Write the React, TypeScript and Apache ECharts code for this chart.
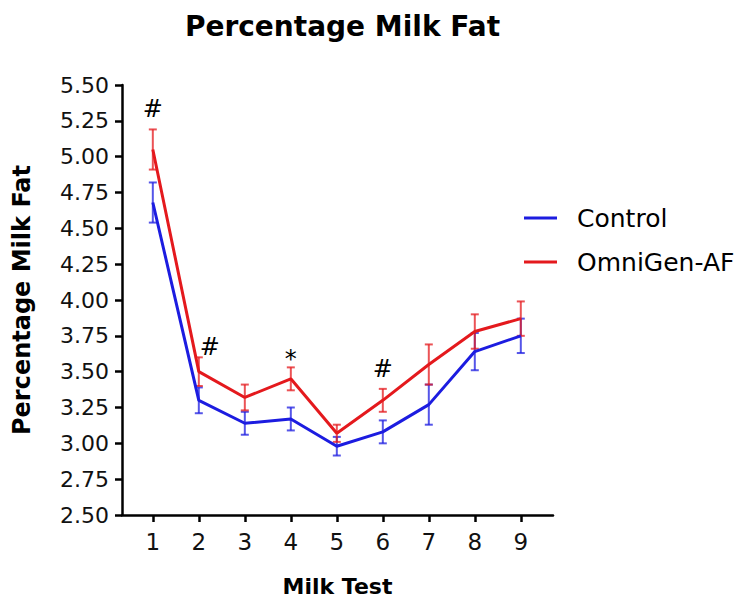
import React, { useEffect, useRef } from "react";
import * as echarts from "echarts";

const milkTests = [1, 2, 3, 4, 5, 6, 7, 8, 9];
const controlMean = [4.68, 3.30, 3.14, 3.17, 2.98, 3.08, 3.27, 3.64, 3.75];
const controlSE = [0.14, 0.09, 0.08, 0.08, 0.065, 0.08, 0.14, 0.13, 0.12];
const omniMean = [5.05, 3.50, 3.32, 3.45, 3.07, 3.30, 3.55, 3.78, 3.87];
const omniSE = [0.14, 0.10, 0.09, 0.08, 0.06, 0.08, 0.14, 0.12, 0.12];
const yTicks = [2.5, 2.75, 3.0, 3.25, 3.5, 3.75, 4.0, 4.25, 4.5, 4.75, 5.0, 5.25, 5.5];
const annotX = [1.0, 2.24, 4.0, 6.0];
const annotY = [5.33, 3.67, 3.59, 3.52];
const annotText = ["#", "#", "*", "#"];

const BLUE = "#1c1ce0";
const RED = "#e4191d";
const FONT = "DejaVu Sans";

export default function App() {
  const ref = useRef<HTMLDivElement>(null);
  useEffect(() => {
    document.body.style.margin = "0";
    if (!ref.current) return;
    const chart = echarts.init(ref.current, null, { renderer: "svg" });

    const errRender = (color: string) => (params: any, api: any) => {
      const x = api.value(0);
      const m = api.value(1);
      const e = api.value(2);
      const top = api.coord([x, m + e]);
      const bot = api.coord([x, m - e]);
      const hw = 4;
      const style = { stroke: color, lineWidth: 2, opacity: 0.75 };
      return {
        type: "group",
        children: [
          { type: "line", shape: { x1: top[0], y1: top[1], x2: bot[0], y2: bot[1] }, style },
          { type: "line", shape: { x1: top[0] - hw, y1: top[1], x2: top[0] + hw, y2: top[1] }, style },
          { type: "line", shape: { x1: bot[0] - hw, y1: bot[1], x2: bot[0] + hw, y2: bot[1] }, style },
        ],
      };
    };

    const option: any = {
      animation: false,
      backgroundColor: "#ffffff",
      title: {
        text: "Percentage Milk Fat",
        left: 337.5,
        top: 7,
        textAlign: "center",
        textStyle: { fontFamily: FONT, fontWeight: "bold", fontSize: 28, color: "#000" },
      },
      legend: {
        data: ["Control", "OmniGen-AF"],
        orient: "vertical",
        left: 519,
        top: 198,
        icon: "rect",
        itemWidth: 33,
        itemHeight: 3,
        itemGap: 14,
        textStyle: {
          fontFamily: FONT,
          fontSize: 25,
          color: "#000",
          lineHeight: 30,
          padding: [0, 0, 0, 15],
        },
      },
      grid: { left: 122, right: 181, top: 85, bottom: 88, containLabel: false },
      xAxis: {
        type: "value",
        min: 0.33,
        max: 9.7,
        name: "Milk Test",
        nameLocation: "middle",
        nameGap: 60,
        nameTextStyle: { fontFamily: FONT, fontWeight: "bold", fontSize: 22, color: "#000" },
        axisLine: { show: true, onZero: false, lineStyle: { color: "#000", width: 2.5 } },
        axisTick: { show: true, length: 7, lineStyle: { color: "#000", width: 2.5 }, customValues: milkTests },
        axisLabel: {
          customValues: milkTests,
          margin: 15,
          fontFamily: FONT,
          fontSize: 23,
          color: "#111",
          formatter: (v: number) => String(v),
        },
        splitLine: { show: false },
      },
      yAxis: {
        type: "value",
        min: 2.5,
        max: 5.5,
        interval: 0.25,
        name: "Percentage Milk Fat",
        nameLocation: "middle",
        nameRotate: 90,
        nameGap: 88,
        nameTextStyle: { fontFamily: FONT, fontWeight: "bold", fontSize: 24, color: "#000" },
        axisLine: { show: true, lineStyle: { color: "#000", width: 2.5 } },
        axisTick: { show: true, length: 7, lineStyle: { color: "#000", width: 2.5 }, customValues: yTicks },
        axisLabel: {
          customValues: yTicks,
          margin: 13,
          fontFamily: FONT,
          fontSize: 22,
          color: "#111",
          formatter: (v: number) => v.toFixed(2),
        },
        splitLine: { show: false },
      },
      series: [
        {
          name: "ControlErr",
          type: "custom",
          renderItem: errRender(BLUE),
          data: milkTests.map((x, i) => [x, controlMean[i], controlSE[i]]),
          encode: { x: 0, y: 1 },
          z: 1,
          silent: true,
        },
        {
          name: "OmniErr",
          type: "custom",
          renderItem: errRender(RED),
          data: milkTests.map((x, i) => [x, omniMean[i], omniSE[i]]),
          encode: { x: 0, y: 1 },
          z: 1,
          silent: true,
        },
        {
          name: "Control",
          type: "line",
          data: milkTests.map((x, i) => [x, controlMean[i]]),
          symbol: "none",
          lineStyle: { color: BLUE, width: 3 },
          itemStyle: { color: BLUE },
          z: 3,
        },
        {
          name: "OmniGen-AF",
          type: "line",
          data: milkTests.map((x, i) => [x, omniMean[i]]),
          symbol: "none",
          lineStyle: { color: RED, width: 3 },
          itemStyle: { color: RED },
          z: 4,
        },
        {
          name: "Annotations",
          type: "custom",
          data: annotX.map((x, i) => [x, annotY[i], i]),
          encode: { x: 0, y: 1 },
          renderItem: (params: any, api: any) => {
            const p = api.coord([api.value(0), api.value(1)]);
            const idx = api.value(2);
            return {
              type: "text",
              x: p[0],
              y: p[1],
              style: {
                text: annotText[idx],
                fontFamily: FONT,
                fontSize: 24,
                fill: "#000",
                align: "center",
                verticalAlign: "middle",
              },
            };
          },
          z: 5,
          silent: true,
        },
      ],
    };
    chart.setOption(option);
    return () => chart.dispose();
  }, []);
  return <div ref={ref} style={{ width: 734, height: 603 }} />;
}
